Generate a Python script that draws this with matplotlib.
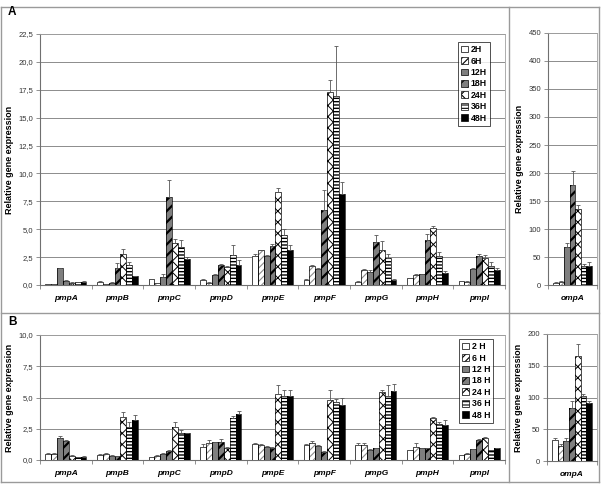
import matplotlib
matplotlib.use("Agg")
import matplotlib.pyplot as plt
import numpy as np
from matplotlib.patches import Patch
from matplotlib.lines import Line2D

plt.rcParams['font.family'] = ['Liberation Sans', 'DejaVu Sans']
plt.rcParams['hatch.linewidth'] = 0.8

genes = ['pmpA', 'pmpB', 'pmpC', 'pmpD', 'pmpE', 'pmpF', 'pmpG', 'pmpH', 'pmpI']
times_A = ['2H', '6H', '12H', '18H', '24H', '36H', '48H']
times_B = ['2 H', '6 H', '12 H', '18 H', '24 H', '36 H', '48 H']

# Panel A: rows = time points, columns = genes
A_vals = {
    '2H':  [0.05, 0.30, 0.50, 0.45, 2.60, 0.45, 0.30, 0.60, 0.35],
    '6H':  [0.10, 0.10, 0.15, 0.20, 3.10, 1.70, 1.30, 0.90, 0.30],
    '12H': [1.50, 0.20, 0.75, 0.90, 2.60, 1.40, 1.20, 0.95, 1.43],
    '18H': [0.40, 1.50, 7.90, 1.75, 3.50, 6.70, 3.85, 4.00, 2.60],
    '24H': [0.20, 2.80, 3.80, 1.60, 8.30, 17.3, 3.10, 5.10, 2.40],
    '36H': [0.25, 1.75, 3.40, 2.70, 4.50, 16.9, 2.40, 2.60, 1.70],
    '48H': [0.30, 0.80, 2.30, 1.75, 3.10, 8.20, 0.45, 1.10, 1.30],
}
A_err = {
    '2H':  [0.02, 0.05, 0.05, 0.05, 0.15, 0.05, 0.05, 0.05, 0.05],
    '6H':  [0.02, 0.03, 0.03, 0.05, 0.05, 0.10, 0.10, 0.05, 0.05],
    '12H': [0.05, 0.05, 0.20, 0.10, 0.10, 0.10, 0.10, 0.05, 0.10],
    '18H': [0.05, 0.50, 1.50, 0.10, 0.20, 1.80, 0.60, 0.60, 0.20],
    '24H': [0.05, 0.40, 0.30, 0.10, 0.40, 1.10, 0.80, 0.20, 0.30],
    '36H': [0.05, 0.35, 0.60, 0.90, 0.50, 4.50, 0.35, 0.40, 0.35],
    '48H': [0.05, 0.05, 0.20, 0.50, 0.50, 1.00, 0.05, 0.15, 0.20],
}
A_omp = [4, 6, 68, 178, 135, 34, 34]
A_omp_err = [1, 1, 7, 25, 8, 4, 7]

# Panel B
B_vals = {
    '2 H':  [0.50, 0.42, 0.24, 1.06, 1.32, 1.22, 1.19, 0.77, 0.40],
    '6 H':  [0.50, 0.50, 0.34, 1.35, 1.24, 1.35, 1.19, 1.08, 0.50],
    '12 H': [1.80, 0.34, 0.50, 1.43, 1.08, 1.16, 0.82, 0.93, 0.85],
    '18 H': [1.53, 0.30, 0.74, 1.45, 1.00, 0.66, 0.95, 0.95, 1.60],
    '24 H': [0.34, 3.41, 2.62, 1.00, 5.30, 4.84, 5.42, 3.36, 1.80],
    '36 H': [0.24, 2.67, 2.20, 3.39, 5.16, 4.68, 5.16, 2.86, 0.77],
    '48 H': [0.26, 3.20, 2.14, 3.68, 5.10, 4.44, 5.50, 2.83, 0.93],
}
B_err = {
    '2 H':  [0.03, 0.05, 0.03, 0.21, 0.05, 0.05, 0.21, 0.03, 0.03],
    '6 H':  [0.05, 0.05, 0.03, 0.25, 0.05, 0.18, 0.21, 0.27, 0.03],
    '12 H': [0.10, 0.03, 0.03, 0.05, 0.03, 0.05, 0.03, 0.03, 0.03],
    '18 H': [0.05, 0.03, 0.03, 0.25, 0.03, 0.03, 0.03, 0.03, 0.05],
    '24 H': [0.03, 0.43, 0.42, 0.05, 0.70, 0.76, 0.16, 0.10, 0.05],
    '36 H': [0.03, 0.37, 0.20, 0.11, 0.44, 0.22, 0.84, 0.21, 0.03],
    '48 H': [0.03, 0.37, 0.06, 0.22, 0.50, 0.51, 0.60, 0.40, 0.03],
}
B_omp = [33, 24, 32, 83, 165, 103, 92]
B_omp_err = [3, 2, 5, 12, 20, 3, 2]

# styles: (facecolor, hatch, hatchcolor, hatch linewidth)
styles = [
    ('white', None, 'black', 0.8),
    ('white', '/////', '#8a8a8a', 0.8),
    ('#7f7f7f', None, 'black', 0.8),
    ('#7f7f7f', '///', 'black', 1.6),
    ('white', 'xxx', 'black', 0.7),
    ('white', '-----', 'black', 1.0),
    ('black', None, 'black', 0.8),
]

W, H = 601, 484
fig = plt.figure(figsize=(W / 100, H / 100), dpi=100)


def ax_px(l, r, t, b):
    return fig.add_axes([l / W, (H - b) / H, (r - l) / W, (b - t) / H])


bw = 0.114


def draw(ax, vals_by_time, errs_by_time, times, n_groups):
    x = np.arange(n_groups)
    for i, t in enumerate(times):
        fc, hatch, hc, hlw = styles[i]
        pos = x + (i - 3) * bw
        v = np.array(vals_by_time[t])
        e = np.array(errs_by_time[t])
        with plt.rc_context({'hatch.linewidth': hlw}):
            ax.bar(pos, v, bw, color=fc, hatch=hatch, edgecolor=hc, linewidth=0, zorder=3)
        ax.bar(pos, v, bw, fill=False, edgecolor='black', linewidth=0.5, zorder=4)
        ax.errorbar(pos, v, yerr=[np.zeros_like(e), e], fmt='none', ecolor='#555555',
                    elinewidth=0.6, capsize=1.3, capthick=0.6, zorder=5)


def style_axis(ax, ymax, step, labels, fmt_comma, n_groups):
    ax.set_xlim(-0.5, n_groups - 0.5)
    ax.set_ylim(0, ymax)
    ticks = np.arange(0, ymax + step / 2, step)
    ax.set_yticks(ticks)
    if fmt_comma:
        ax.set_yticklabels([('%.1f' % t).replace('.', ',') for t in ticks])
    else:
        ax.set_yticklabels(['%d' % t for t in ticks])
    ax.set_xticks(np.arange(n_groups))
    ax.set_xticklabels(labels, fontstyle='italic', fontweight='bold', fontsize=6)
    ax.set_xticks(np.arange(n_groups + 1) - 0.5, minor=True)
    ax.tick_params(axis='x', which='major', length=0, pad=7)
    ax.tick_params(axis='x', which='minor', length=3, width=0.6, color='#808080', direction='out')
    ax.tick_params(axis='y', length=3, width=0.6, color='#808080', labelsize=5.5,
                   labelcolor='#333333', pad=2)
    ax.yaxis.grid(True, color='#8c8c8c', linewidth=0.7, zorder=0)
    ax.set_axisbelow(True)
    for s in ['left', 'bottom']:
        ax.spines[s].set_color('#707070')
        ax.spines[s].set_linewidth(0.8)
    for s in ['top', 'right']:
        ax.spines[s].set_color('#a0a0a0')
        ax.spines[s].set_linewidth(0.6)
    ax.set_ylabel('Relative gene expression', fontsize=6.5, fontweight='bold', labelpad=3)


def legend(ax, times, box):
    handles = []
    for i, t in enumerate(times):
        fc, hatch, hc, hlw = styles[i]
        handles.append(Patch(facecolor=fc, hatch=hatch, edgecolor='black', linewidth=0.5))
    leg = ax.legend(handles, times, loc='upper left', bbox_to_anchor=box,
                    bbox_transform=fig.transFigure, fontsize=6.3, frameon=True,
                    fancybox=False, edgecolor='black', handlelength=0.8, handleheight=0.8,
                    handletextpad=0.3, labelspacing=0.28, borderpad=0.35, borderaxespad=0)
    leg.get_frame().set_linewidth(0.6)
    for txt in leg.get_texts():
        txt.set_fontweight('bold')
    leg.set_zorder(10)


# Panel A
axA = ax_px(40, 505, 34, 285)
draw(axA, A_vals, A_err, times_A, len(genes))
style_axis(axA, 22.5, 2.5, genes, True, len(genes))
legend(axA, times_A, (458 / W, (H - 42) / H))

axA2 = ax_px(548, 597, 33, 285)
draw(axA2, {t: [A_omp[i]] for i, t in enumerate(times_A)},
     {t: [A_omp_err[i]] for i, t in enumerate(times_A)}, times_A, 1)
style_axis(axA2, 450, 50, ['ompA'], False, 1)

# Panel B
axB = ax_px(40, 505, 335, 460)
draw(axB, B_vals, B_err, times_B, len(genes))
style_axis(axB, 10, 2.5, genes, True, len(genes))
legend(axB, times_B, (459 / W, (H - 339) / H))

axB2 = ax_px(547, 597, 334, 461)
draw(axB2, {t: [B_omp[i]] for i, t in enumerate(times_B)},
     {t: [B_omp_err[i]] for i, t in enumerate(times_B)}, times_B, 1)
style_axis(axB2, 200, 50, ['ompA'], False, 1)

# outer frames
def hline(y, x0, x1):
    fig.add_artist(Line2D([x0 / W, x1 / W], [(H - y) / H, (H - y) / H],
                          color='#9a9a9a', linewidth=1.0))


def vline(x, y0, y1):
    fig.add_artist(Line2D([x / W, x / W], [(H - y0) / H, (H - y1) / H],
                          color='#9a9a9a', linewidth=1.0))


hline(7, 1, 599)
hline(313, 1, 599)
hline(482, 1, 599)
vline(1, 7, 482)
vline(599, 7, 482)
vline(509, 7, 482)

fig.text(8 / W, (H - 12) / H, 'A', fontsize=8.5, fontweight='bold', va='center', ha='left')
fig.text(8 / W, (H - 322) / H, 'B', fontsize=8.5, fontweight='bold', va='center', ha='left')

fig.savefig('out.png', dpi=100)
